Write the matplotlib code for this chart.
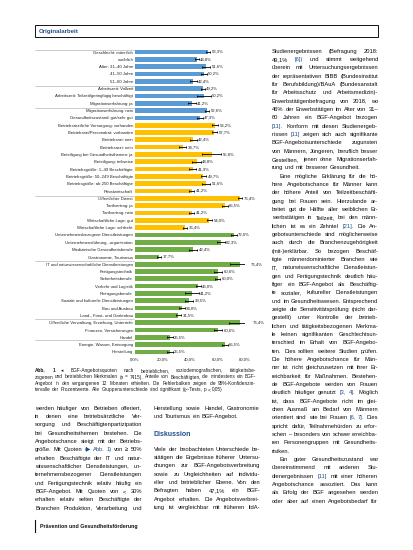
import matplotlib
matplotlib.use("Agg")
import matplotlib.pyplot as plt
from matplotlib.lines import Line2D
from matplotlib.patches import Rectangle

# ---------------- data ----------------
labels = [
    "Geschlecht: männlich", "weiblich", "Alter: 31–40 Jahre", "41–50 Jahre", "51–60 Jahre",
    "Arbeitszeit: Vollzeit", "Arbeitszeit: Teilzeit/geringfügig beschäftigt",
    "Migrationserfahrung: ja", "Migrationserfahrung: nein", "Gesundheitszustand: gut/sehr gut",
    "Betriebsärztliche Versorgung: vorhanden", "Betriebsrat/Personalrat: vorhanden",
    "Betriebsrat: nein", "Betriebsarzt: nein", "Beteiligung bei Gesundheitsthemen: ja",
    "Beteiligung: teilweise", "Betriebsgröße: 1–49 Beschäftigte", "Betriebsgröße: 50–249 Beschäftigte",
    "Betriebsgröße: ab 250 Beschäftigte", "Privatwirtschaft", "Öffentlicher Dienst",
    "Tarifvertrag: ja", "Tarifvertrag: nein", "Wirtschaftliche Lage: gut",
    "Wirtschaftliche Lage: schlecht",
    "Unternehmensbezogene Dienstleistungen", "Unternehmensführung, -organisation",
    "Medizinische Gesundheitsberufe", "Gastronomie, Tourismus",
    "IT und naturwissenschaftliche Dienstleistungen", "Fertigungstechnik", "Sicherheitsberufe",
    "Verkehr und Logistik", "Reinigungsberufe", "Soziale und kulturelle Dienstleistungen",
    "Bau und Ausbau", "Land-, Forst- und Gartenbau",
    "Öffentliche Verwaltung, Erziehung, Unterricht", "Finanzen, Versicherungen", "Handel",
    "Energie, Wasser, Entsorgung", "Herstellung",
]
values = [
    53.3, 44.8, 51.6, 50.2, 42.4, 49.2, 50.2, 41.2, 52.6, 47.3,
    58.2, 57.7, 42.4, 34.7, 55.8, 44.8, 41.9, 49.7, 51.6, 41.2,
    76.4, 65.5, 41.2, 54.0, 36.4,
    72.0, 62.3, 42.4, 17.7, 76.4, 60.6, 60.0, 46.0, 41.2, 39.5,
    34.0, 31.5, 76.4, 60.6, 25.5, 65.5, 25.5,
]
errors = [
    1.5, 1.5, 3.0, 2.0, 2.5, 1.5, 5.0, 3.0, 1.5, 2.0,
    2.5, 2.0, 2.5, 2.5, 7.0, 3.0, 2.5, 2.0, 3.0, 2.0,
    1.5, 2.0, 2.0, 2.0, 1.5,
    2.0, 3.0, 3.0, 1.5, 7.0, 3.0, 2.0, 2.0, 5.0, 3.0,
    2.0, 2.0, 8.0, 3.0, 2.0, 2.0, 2.0,
]
groups = ["person"] * 10 + ["betrieb"] * 15 + ["branche"] * 17
group_colors = {"person": "#5B9BD5", "betrieb": "#FFC000", "branche": "#70AD47"}
tick_vals = [0, 20, 40, 60, 80]
tick_labels = ["0,0%", "20,0%", "40,0%", "60,0%", "80,0%"]

caption_lines = [
    "Abb. 1 ◂ BGF-Angebotsquoten nach betrieblichen, soziodemografischen, tätigkeitsbe-",
    "zogenen und betrieblichen Merkmalen (n = 7415). Anteile von Beschäftigten, die mindestens ein BGF-",
    "Angebot in den vergangenen 12 Monaten erhielten. Die Fehlerbalken zeigen die 95%-Konfidenzin-",
    "<tervalle der Prozentwerte. Alle Gruppenunterschiede sind signifikant (χ²-Tests, p < 0,05)",
]
left_lines = [
    "werden häufiger von Betrieben offeriert,",
    "in denen eine betriebsärztliche Ver-",
    "sorgung und Beschäftigtenpartizipation",
    "bei Gesundheitsthemen bestehen. Die",
    "Angebotschance steigt mit der Betriebs-",
    "größe. Mit Quoten (~▶ ~Abb. ~1) von ≥ 50%",
    "erhalten Beschäftigte der IT und natur-",
    "wissenschaftlicher Dienstleistungen, un-",
    "ternehmensbezogener Dienstleistungen",
    "und Fertigungstechnik relativ häufig ein",
    "BGF-Angebot. Mit Quoten von < 30%",
    "erhalten relativ selten Beschäftigte der",
    "Branchen Produktion, Verarbeitung und",
]
mid_top_lines = [
    "Herstellung sowie Handel, Gastronomie",
    "<und Tourismus ein BGF-Angebot.",
]
mid_lines = [
    "Viele der beobachteten Unterschiede be-",
    "stätigen die Ergebnisse früherer Untersu-",
    "chungen zur BGF-Angebotsverbreitung",
    "sowie zu Ungleichheiten auf individu-",
    "eller und betrieblicher Ebene. Von den",
    "Befragten haben 47,1% ein BGF-",
    "Angebot erhalten. Die Angebotsverbrei-",
    "tung ist vergleichbar mit früheren lidA-",
]
right_lines = [
    "Studienergebnissen (Befragung 2018:",
    "49,1% ~[6]) und stimmt weitgehend",
    "überein mit Untersuchungsergebnissen",
    "der repräsentativen BIBB (Bundesinstitut",
    "für Berufsbildung)/BAuA (Bundesanstalt",
    "für Arbeitsschutz und Arbeitsmedizin)-",
    "Erwerbstätigenbefragung von 2018, wo",
    "46% der Erwerbstätigen im Alter von 31–",
    "60 Jahren ein BGF-Angebot bezogen",
    "~[11]. Konform mit diesen Studienergeb-",
    "nissen ~[11] zeigen sich auch signifikante",
    "BGF-Angebotsunterschiede zugunsten",
    "von Männern, Jüngeren, beruflich besser",
    "Gestellten, jenen ohne Migrationserfah-",
    "<rung und mit besserer Gesundheit.",
    ">Eine mögliche Erklärung für die hö-",
    "here Angebotschance für Männer kann",
    "der höhere Anteil von Teilzeitbeschäfti-",
    "gung bei Frauen sein. Hierzulande ar-",
    "beitet gut die Hälfte aller weiblichen Er-",
    "werbstätigen in Teilzeit, bei den männ-",
    "lichen ist es ein Zehntel ~[21]. Die An-",
    "gebotsunterschiede sind möglicherweise",
    "auch durch die Branchenzugehörigkeit",
    "(mit-)erklärbar. So bezogen Beschäf-",
    "tigte männerdominierter Branchen wie",
    "IT, naturwissenschaftliche Dienstleistun-",
    "gen und Fertigungstechnik deutlich häu-",
    "figer ein BGF-Angebot als Beschäftig-",
    "te sozialer, kultureller Dienstleistungen",
    "und im Gesundheitswesen. Entsprechend",
    "zeigte die Sensitivitätsprüfung (nicht dar-",
    "gestellt) unter Kontrolle der betrieb-",
    "lichen und tätigkeitsbezogenen Merkma-",
    "le keinen signifikanten Geschlechtsun-",
    "terschied im Erhalt von BGF-Angebo-",
    "ten. Dies sollten weitere Studien prüfen.",
    "Die höhere Angebotschance für Män-",
    "ner ist nicht gleichzusetzen mit ihrer Er-",
    "reichbarkeit für Maßnahmen. Bestehen-",
    "de BGF-Angebote werden von Frauen",
    "deutlich häufiger genutzt ~[3, ~4]. Möglich",
    "ist, dass BGF-Angebote nicht im glei-",
    "chen Ausmaß am Bedarf von Männern",
    "orientiert sind wie bei Frauen ~[6, ~7]. Dies",
    "spricht dafür, Teilnahmehürden zu erfor-",
    "schen – besonders von schwer erreichba-",
    "ren Personengruppen mit Gesundheits-",
    "<risiken.",
    ">Ein guter Gesundheitszustand war",
    "übereinstimmend mit anderen Stu-",
    "dienergebnissen ~[11] mit einer höheren",
    "Angebotschance assoziiert. Das kann",
    "als Erfolg der BGF angesehen werden",
    "oder aber auf einen Angebotsbedarf für",
]

# ---------------- fonts ----------------
plt.rcParams["font.family"] = ["Liberation Sans", "DejaVu Sans"]

LAB = 3.1
TXT = "#0d0d0d"
BLUE = "#1F4E8C"

W, H = 413, 550
fig = plt.figure(figsize=(W / 100, H / 100), dpi=100)
renderer = fig.canvas.get_renderer()


def fx(x):
    return x / W


def fy(y):
    return 1 - y / H


_cache = {}


def text_width(s, size, weight="normal"):
    key = (s, round(size, 4), weight)
    if key not in _cache:
        t = fig.text(0, 0, s, fontsize=size, fontweight=weight)
        _cache[key] = t.get_window_extent(renderer).width
        t.remove()
    return _cache[key]


def parse(line):
    justify, indent = True, 0
    if line.startswith("<"):
        justify, line = False, line[1:]
    if line.startswith(">"):
        indent, line = 8, line[1:]
    return justify, indent, line


def natural_width(line, size):
    _, indent, line = parse(line)
    words = [w.replace("~", "") for w in line.split(" ")]
    sp = text_width("a a", size) - text_width("aa", size)
    return indent + sum(text_width(w, size) for w in words) + sp * (len(words) - 1)


def fit_size(lines, x0, x1, q=0.8):
    avail = x1 - x0
    ratios = sorted(natural_width(l, 10.0) / 10.0 for l in lines if not l.startswith("<"))
    r = ratios[min(len(ratios) - 1, int(q * len(ratios)))]
    return round(avail / r * 0.985, 2)


def draw_line(line, x0, x1, y, size, bold_words=0, color=TXT):
    justify, indent, line = parse(line)
    words = line.split(" ")
    clean = [w.replace("~", "") for w in words]
    blue = ["~" in w for w in words]
    weights = ["bold" if i < bold_words else "normal" for i in range(len(words))]
    avail = x1 - x0 - indent
    n = len(words)
    ws = [text_width(c, size, wt) for c, wt in zip(clean, weights)]
    sp = text_width("a a", size) - text_width("aa", size)
    fs = size
    minnat = sum(ws) + 0.6 * sp * (n - 1)
    if minnat > avail:
        fs = round(size * avail / minnat * 0.99, 3)
        ws = [text_width(c, fs, wt) for c, wt in zip(clean, weights)]
        sp = text_width("a a", fs) - text_width("aa", fs)
    natural = sum(ws) + sp * (n - 1)
    if n > 1 and (justify or natural > avail):
        gap = (avail - sum(ws)) / (n - 1)
    else:
        gap = sp
    x = x0 + indent
    for c, wd, b, wt in zip(clean, ws, blue, weights):
        fig.text(fx(x), fy(y + 1.7), c, fontsize=fs, va="baseline", ha="left",
                 color=BLUE if b else color, fontweight=wt)
        x += wd + gap


def draw_block(lines, x0, x1, y0, dy, size, first_bold=0, color=TXT):
    for i, ln in enumerate(lines):
        draw_line(ln, x0, x1, y0 + i * dy, size, bold_words=first_bold if i == 0 else 0,
                  color=color)


# ---------------- header ----------------
fig.add_artist(Rectangle((fx(35), fy(37)), (378 - 35) / W, 12 / H, transform=fig.transFigure,
                         fill=False, edgecolor="#111111", lw=0.7))
fig.text(fx(39), fy(31), "Originalarbeit", fontsize=4.4, color=BLUE, fontweight="bold",
         va="center", ha="left")

# ---------------- chart ----------------
n = len(labels)
ax = fig.add_axes([fx(135), fy(356), 110 / W, 308 / H])
ypos = list(range(n))
ax.barh(ypos, values, height=0.64, color=[group_colors[g] for g in groups],
        xerr=errors, error_kw=dict(ecolor="#000000", elinewidth=0.6, capsize=0.8, capthick=0.6))
for i, (v, e) in enumerate(zip(values, errors)):
    ax.text(v + e + 1.0, i, f"{v:.1f}%".replace(".", ","), va="center", ha="left",
            fontsize=LAB, color="#222222")
ax.set_xlim(0, 80)
ax.set_ylim(n - 1 + 0.547, -0.547)
ax.set_yticks(ypos, labels)
ax.set_xticks(tick_vals, tick_labels)
ax.tick_params(axis="y", length=0, pad=1.5, labelsize=LAB, labelcolor="#222222")
ax.tick_params(axis="x", length=0, pad=1.2, labelsize=LAB, labelcolor="#222222")
for s in ax.spines.values():
    s.set_visible(False)
ax.patch.set_alpha(0)

for ysep in [50, 86, 108, 196, 261, 319, 340]:
    fig.add_artist(Line2D([fx(35), fx(134)], [fy(ysep), fy(ysep)], color="#a6a6a6", lw=0.4,
                          transform=fig.transFigure))

# ---------------- caption ----------------
cap_size = fit_size(caption_lines, 35, 256, q=0.7)
draw_block(caption_lines, 35, 256, 370.5, 6.3, cap_size, first_bold=2, color="#1a1a1a")

# ---------------- body text ----------------
DY = 8.33
body = min(fit_size(right_lines, 272, 378), fit_size(left_lines, 35, 142),
           fit_size(mid_lines, 154, 260))
draw_block(left_lines, 35, 142, 408, DY, body)
draw_block(mid_top_lines, 154, 260, 408, DY, body)
fig.text(fx(154), fy(435), "Diskussion", fontsize=5.0, color=BLUE, fontweight="bold",
         va="center", ha="left")
draw_block(mid_lines, 154, 260, 449, DY, body)
draw_block(right_lines, 272, 378, 51, DY, body)

# ---------------- footer ----------------
fig.add_artist(Line2D([fx(35), fx(35)], [fy(520), fy(532)], color="#111111", lw=0.8,
                      transform=fig.transFigure))
fig.text(fx(40), fy(526.5), "Prävention und Gesundheitsförderung", fontsize=3.8,
         color="#111111", va="center", ha="left", fontweight="bold")

fig.savefig("out.png", dpi=100)
